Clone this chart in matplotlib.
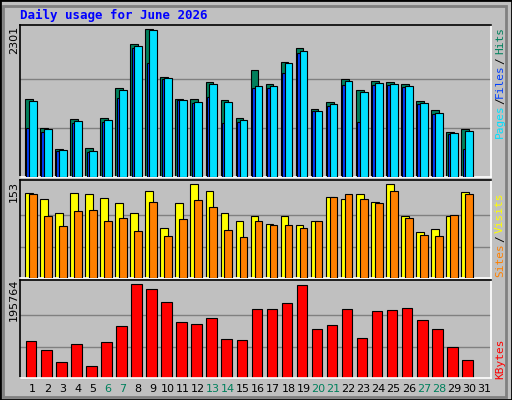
import matplotlib
matplotlib.use("Agg")
import matplotlib.pyplot as plt
from matplotlib.patches import Rectangle

days = list(range(1, 32))
hits = [1221,767,438,897,459,913,1393,2071,2301,1565,1221,1221,1477,1205,913,1675,1456,1800,2004,1064,1174,1534,1362,1503,1487,1456,1190,1049,704,751]
files = [1190,751,423,877,407,892,1362,2035,2285,1550,1205,1174,1456,1174,892,1424,1424,1785,1972,1033,1143,1503,1331,1471,1456,1424,1158,1002,689,720]
pages = [767,704,407,845,391,861,1237,2004,1785,1534,1205,1158,1252,845,861,1393,1393,1628,1941,1033,1111,1440,861,1440,1440,1409,1143,986,673,438]
visits = [138,128,106,138,136,130,121,106,141,81,121,153,141,106,93,100,88,100,86,93,131,128,136,123,153,100,75,80,101,140]
sites = [136,100,85,108,111,93,98,76,123,68,96,126,116,78,67,93,86,86,81,93,131,136,128,121,141,98,70,68,103,136]
kbytes = [77447,58085,32270,70993,25816,75296,107565,195764,185012,157045,116170,111868,124775,81749,79598,144137,144137,154894,193617,101111,109716,144137,83901,139835,141986,146288,120473,101111,64539,36572]
weekends = [6,7,13,14,20,21,27,28]

W, H = 512, 400
fig = plt.figure(figsize=(W/100, H/100), dpi=100, facecolor="#C0C0C0")
fig.patches.append(Rectangle((0, 0), 1, 1, transform=fig.transFigure, fill=False, edgecolor="black", lw=2))
fig.patches.append(Rectangle((3/W, 3/H), (W-9)/W, (H-9)/H, transform=fig.transFigure, fill=False, edgecolor="#808080", lw=2))
fig.text(20/W, 1-15/H, "Daily usage for June 2026", color="#0000FF", family="DejaVu Sans Mono",
         weight="bold", fontsize=9, va="center", ha="left")

x0, x1 = 20, 491
xl = (0.155, 31.47)

def mkax(top, bot):
    ax = fig.add_axes([x0/W, 1-bot/H, (x1-x0)/W, (bot-top)/H])
    ax.set_facecolor("#C0C0C0")
    ax.set_xlim(*xl)
    for s in ["left", "top"]:
        ax.spines[s].set_color("black")
    for s in ["right", "bottom"]:
        ax.spines[s].set_color("white")
    for sp in ax.spines.values():
        sp.set_linewidth(1.2)
    ax.set_xticks([]); ax.set_yticks([])
    return ax

def rlabel(y, s, c):
    fig.text(500/W, 1-y/H, s, color=c, rotation=90, ha="center", va="center",
             fontsize=8, family="DejaVu Sans Mono")

ec = dict(edgecolor="black", linewidth=0.8)
d = days[:len(hits)]

ax1 = mkax(25, 177)
ax1.set_ylim(0, max(hits)*1.03)
for g in (1/3, 2/3):
    ax1.axhline(max(hits)*g, color="#808080", lw=1, zorder=0)
ax1.bar([i-0.51 for i in d], hits, width=0.51, align="edge", color="#00805C", **ec, zorder=2)
ax1.bar([i-0.25 for i in d], files, width=0.51, align="edge", color="#00E0FF", **ec, zorder=4)
ax1.bar([i-0.42 for i in d], pages, width=0.2, align="edge", color="#0040FF", **ec, zorder=3)
fig.text(14/W, 1-40/H, str(max(hits)), rotation=90, ha="center", va="center", fontsize=8)
rlabel(121, "Pages", "#00E0FF")
rlabel(101, "/", "black")
rlabel(81, "Files", "#0040FF")
rlabel(61, "/", "black")
rlabel(40, "Hits", "#00805C")

ax2 = mkax(180, 278)
mv = max(visits)
ax2.set_ylim(0, mv*1.04)
for g in (1/3, 2/3):
    ax2.axhline(mv*g, color="#808080", lw=1, zorder=0)
ax2.bar([i-0.51 for i in d], visits, width=0.51, align="edge", color="#FFFF00", **ec, zorder=2)
ax2.bar([i-0.25 for i in d], sites, width=0.51, align="edge", color="#FF8000", **ec, zorder=3)
fig.text(14/W, 1-192/H, str(mv), rotation=90, ha="center", va="center", fontsize=8)
rlabel(260, "Sites", "#FF8000")
rlabel(239, "/", "black")
rlabel(213, "Visits", "#FFFF00")

ax3 = mkax(280, 378)
mk = max(kbytes)
ax3.set_ylim(0, mk*1.04)
for g in (1/3, 2/3):
    ax3.axhline(mk*g, color="#808080", lw=1, zorder=0)
ax3.bar([i-0.45 for i in d], kbytes, width=0.7, align="edge", color="#FF0000", **ec, zorder=2)
fig.text(14/W, 1-300/H, str(mk), rotation=90, ha="center", va="center", fontsize=8)
rlabel(359, "KBytes", "#FF0000")

ax3.set_xticks(days)
ax3.set_xticklabels([str(x) for x in days], fontsize=8)
ax3.tick_params(axis="x", length=0, pad=4)
for lab, dd in zip(ax3.get_xticklabels(), days):
    lab.set_color("#00805C" if dd in weekends else "black")

fig.savefig("out.png", dpi=100, facecolor=fig.get_facecolor())
